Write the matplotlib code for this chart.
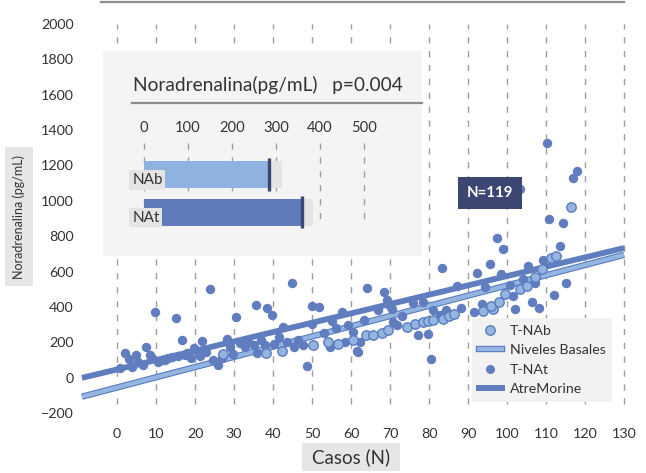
import numpy as np
import matplotlib
matplotlib.use("Agg")
import matplotlib.pyplot as plt
import matplotlib.patheffects as pe
from matplotlib.lines import Line2D
from matplotlib.patches import Rectangle

plt.rcParams['font.family'] = ['Lato', 'DejaVu Sans']

DARK = '#5f7dbf'
LIGHT = '#93b5e0'
EDGE = '#5a7cc0'
NAVY = '#3c4672'
TXT = '#333333'
GRID = '#9e9e9e'

# T-NAt (AtreMorine) points
nat_x = [0.8, 2.0, 3.0, 3.8, 4.8, 5.4, 6.7, 7.4, 8.5, 9.0, 9.7, 10.5, 11.5, 12.3, 13.2,
         14.0, 15.0, 15.7, 16.7, 17.5, 18.0, 19.0, 19.7, 20.8, 21.4, 21.9, 22.8, 23.8,
         24.6, 26.0, 27.0, 28.2, 29.0, 29.8, 30.5, 31.5, 32.8, 33.6, 35.0, 35.6, 35.9,
         37.0, 38.0, 38.4, 39.7, 40.3, 41.5, 42.5, 43.5, 44.8, 45.4, 46.3, 47.7, 48.7,
         50.0, 50.0, 51.8, 53.0, 54.6, 55.1, 56.2, 57.7, 58.5, 59.3, 60.5, 61.5, 61.9,
         62.3, 63.3, 64.1, 67.0, 68.5, 69.2, 70.0, 70.5, 70.8, 71.8, 73.0, 75.9, 77.2,
         78.5, 79.7, 80.5, 81.0, 82.8, 83.3, 84.4, 87.2, 88.2, 91.5, 92.3, 93.6, 94.4,
         95.6, 97.4, 98.5, 99.0, 100.8, 101.5, 102.0, 103.3, 104.0, 105.4, 106.4, 107.2,
         108.2, 109.2, 110.3, 110.8, 112.0, 113.6, 114.4, 115.1, 116.9, 118.0]
nat_y = [56, 141, 107, 62, 130, 90, 73, 175, 128, 113, 373, 90, 98, 102, 110,
         119, 339, 124, 215, 128, 141, 113, 169, 147, 122, 209, 147, 503,
         102, 73, 112, 220, 175, 136, 345, 198, 175, 205, 186, 412, 141,
         215, 186, 395, 356, 192, 231, 288, 203, 537, 175, 212, 186, 68,
         305, 407, 401, 255, 175, 322, 282, 373, 203, 300, 260, 152, 147,
         203, 328, 508, 384, 486, 441, 407, 390, 316, 299, 350, 424, 243,
         429, 249, 107, 384, 356, 621, 384, 520, 395, 373, 593, 418, 514,
         644, 791, 588, 729, 525, 463, 390, 1068, 559, 633, 429, 537,
         395, 667, 1328, 898, 469, 746, 876, 537, 1130, 1169]

# T-NAb (niveles basales) points
nab_x = [27.2, 38.2, 42.3, 50.3, 54.1, 56.7, 60.5, 63.8, 65.6, 67.9, 69.5, 74.4, 76.4,
         78.5, 79.7, 81.0, 83.6, 85.1, 86.4, 93.8, 96.4, 96.0, 97.9, 99.5, 103.3, 105.0,
         107.2, 109.0, 111.3, 112.6, 116.4]
nab_y = [136, 141, 152, 186, 203, 192, 215, 243, 243, 254, 271, 288, 305,
         316, 322, 328, 333, 350, 362, 379, 390, 405, 429, 475, 503, 520,
         571, 616, 678, 689, 966]

# trend lines (slope, intercept)
atre_fit = (5.28, 47)
basal_fit = (5.77, -55)
fit_range = [-9, 130]

# inset bars
bar_labels = ['NAb', 'NAt']
bar_means = [285, 360]
bar_upper = [313, 384]
bar_colors = ['#8fb3de', '#607bba']
bar_ticks = [0, 100, 200, 300, 400, 500]

xticks = list(range(0, 131, 10))
yticks = list(range(-200, 2001, 200))

fig = plt.figure(figsize=(6.46, 4.73), dpi=100)
W, H = 646, 473
ax = fig.add_axes([78 / W, 1 - 422 / H, 550 / W, 420 / H])
ax.set_xlim(-10, 131)
ax.set_ylim(-250, 2124)
for s in ['left', 'right', 'bottom']:
    ax.spines[s].set_visible(False)
ax.spines['top'].set_bounds(-4, 130)
ax.spines['top'].set_color('#8c8c8c')
ax.spines['top'].set_linewidth(1.6)

ax.vlines(xticks, -150, 2000, colors=GRID, linestyles=(0, (4.5, 5.5)), lw=1, zorder=0)
ax.set_xticks(xticks)
ax.set_yticks(yticks)
ax.tick_params(length=0, labelsize=10.3, colors=TXT)
ax.tick_params(axis='y', pad=3)
ax.tick_params(axis='x', pad=4)

xs = np.array(fit_range, dtype=float)
ax.plot(xs, atre_fit[0] * xs + atre_fit[1], color=DARK, lw=4.2,
        solid_capstyle='butt', zorder=2)
ax.plot(xs, basal_fit[0] * xs + basal_fit[1], color=LIGHT, lw=3.0,
        solid_capstyle='butt', zorder=2,
        path_effects=[pe.Stroke(linewidth=4.6, foreground=EDGE), pe.Normal()])

ax.scatter(nat_x, nat_y, s=46, color=DARK, lw=0, zorder=3)
ax.scatter(nab_x, nab_y, s=46, facecolor=LIGHT, edgecolor=EDGE, lw=1, zorder=4)

handles = [
    Line2D([], [], ls='none', marker='o', ms=6.8, mfc=LIGHT, mec=EDGE, mew=1),
    Line2D([], [], color=LIGHT, lw=3,
           path_effects=[pe.Stroke(linewidth=4.6, foreground=EDGE), pe.Normal()]),
    Line2D([], [], ls='none', marker='o', ms=6.5, mfc=DARK, mec=DARK, mew=0),
    Line2D([], [], color=DARK, lw=4.3),
]
labels = ['T-NAb', 'Niveles Basales', 'T-NAt', 'AtreMorine']
leg = ax.legend(handles, labels, loc='upper left',
                bbox_to_anchor=(472 / W, 1 - 318 / H), bbox_transform=fig.transFigure,
                frameon=True, facecolor='#f2f2f2', edgecolor='none', framealpha=1,
                fancybox=False, fontsize=10.2, handlelength=1.6, handletextpad=0.55,
                borderpad=0.5, labelspacing=0.52, borderaxespad=0)
for t in leg.get_texts():
    t.set_color(TXT)

# inset panel
ax2 = fig.add_axes([103 / W, 1 - 256 / H, 319 / W, 205 / H], zorder=2)
ax2.set_facecolor('#f4f4f4')
ax2.set_xlim(-93.2, 631.8)
ax2.set_ylim(2.173, -3.293)
for s in ax2.spines.values():
    s.set_visible(False)
ax2.set_xticks([])
ax2.set_yticks([])

ax2.text(0.094, 0.834, 'Noradrenalina(pg/mL)   p=0.004', transform=ax2.transAxes,
         fontsize=13.8, color=TXT, ha='left', va='center')
ax2.plot([0.091, 1.0], [0.746, 0.746], transform=ax2.transAxes, color='#8c8c8c',
         lw=1.6, clip_on=False)
for v in bar_ticks:
    ax2.text(v, -1.24, str(v), fontsize=10.6, color=TXT, ha='center', va='center')
ax2.vlines(bar_ticks, -0.84, 1.21, colors=GRID, linestyles=(0, (4.5, 5.5)), lw=1, zorder=1)

pos = np.arange(len(bar_labels))
ax2.barh(pos, bar_upper, height=0.72, color='#e4e4e4', zorder=2)
ax2.barh(pos, bar_means, height=0.72, color=bar_colors, zorder=3)
ax2.vlines(bar_means, pos - 0.43, pos + 0.43, colors=NAVY, lw=2.4, zorder=4)
for p, lab in zip(pos, bar_labels):
    ax2.text(-27, p + 0.15, lab, fontsize=11, color=TXT, ha='left', va='center', zorder=5,
             bbox=dict(boxstyle='square,pad=0.18', fc='#e4e4e4', ec='none'))

# annotations
fig.text(490 / W, 1 - 193 / H, 'N=119', color='white', weight='bold', fontsize=10.8,
         ha='center', va='center', zorder=6,
         bbox=dict(boxstyle='square,pad=0.58', fc=NAVY, ec='none'))

fig.text(19 / W, 1 - 217 / H, 'Noradrenalina (pg/mL)', rotation=90, fontsize=9,
         color=TXT, ha='center', va='center',
         bbox=dict(boxstyle='square,pad=0.6', fc='#e6e6e6', ec='none'))

fig.patches.append(Rectangle((302 / W, 1 - 471 / H), 98 / W, 28 / H,
                             transform=fig.transFigure, fc='#e6e6e6', ec='none'))
fig.text(351 / W, 1 - 457 / H, 'Casos (N)', fontsize=13.5, color=TXT,
         ha='center', va='center')

fig.savefig('out.png', dpi=100)
